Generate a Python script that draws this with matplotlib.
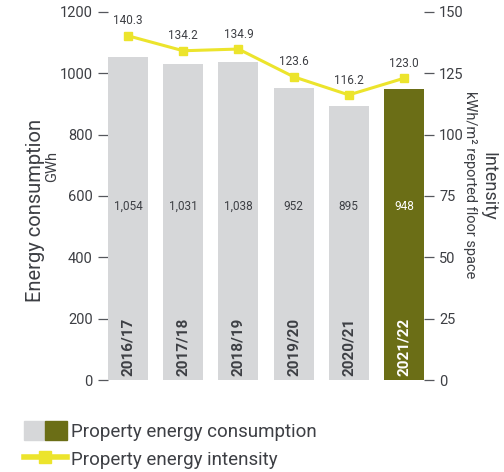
import matplotlib
matplotlib.use('AGG')
import matplotlib.pyplot as plt
from matplotlib.patches import Patch
from matplotlib.lines import Line2D
from matplotlib.legend_handler import HandlerTuple
import numpy as np

# data
years = ['2016/17', '2017/18', '2018/19', '2019/20', '2020/21', '2021/22']
consumption = [1054, 1031, 1038, 952, 895, 948]
intensity = [140.3, 134.2, 134.9, 123.6, 116.2, 123.0]
consumption_labels = ['1,054', '1,031', '1,038', '952', '895', '948']

grey = '#d6d7d9'
olive = '#6b6e16'
yellow = '#ece42c'
txt = '#3d3f44'
tickc = '#55575c'

plt.rcParams['font.family'] = ['Roboto', 'DejaVu Sans']

fig = plt.figure(figsize=(5.04, 4.72), dpi=100)
ax = fig.add_axes([108 / 504, 1 - 380 / 472, 316 / 504, 368 / 472])
ax2 = ax.twinx()

x = np.arange(len(years))
colors = [grey] * (len(years) - 1) + [olive]
ax.bar(x, consumption, width=0.725, color=colors, zorder=2)

for i in range(len(years)):
    c = 'white' if i == len(years) - 1 else txt
    ax.text(x[i], 567, consumption_labels[i], ha='center', va='center',
            fontsize=8.5, color=c)
    ax.text(x[i], 14, years[i], rotation=90, ha='center', va='bottom',
            fontsize=11, fontweight='semibold', color=c)

ax.set_xlim(-0.3625, 5.3625)
ax.set_ylim(0, 1200)
ax.set_yticks(range(0, 1201, 200))
ax.set_xticks([])

ax2.plot(x, intensity, color=yellow, lw=2.2, marker='s', ms=5.5, zorder=3)
for i in range(len(years)):
    ax2.annotate('%.1f' % intensity[i], (x[i], intensity[i]), xytext=(0, 6),
                 textcoords='offset points', ha='center', va='bottom',
                 fontsize=8.5, color=txt)
ax2.set_ylim(0, 150)
ax2.set_yticks(range(0, 151, 25))

for a in (ax, ax2):
    for s in a.spines.values():
        s.set_visible(False)
    a.tick_params(axis='y', length=7, width=0.9, color=tickc, labelcolor=txt,
                  labelsize=10.5, pad=4)
ax.set_zorder(ax2.get_zorder() - 1)
ax2.patch.set_visible(False)

# axis titles
fig.text(36 / 504, 1 - 210 / 472, 'Energy consumption', rotation=90,
         ha='center', va='center', fontsize=14.5, color=txt)
fig.text(52 / 504, 1 - 167 / 472, 'GWh', rotation=90,
         ha='center', va='center', fontsize=10.5, color=txt)
fig.text(488 / 504, 1 - 186 / 472, 'Intensity', rotation=270,
         ha='center', va='center', fontsize=13, color=txt)
fig.text(470 / 504, 1 - 185 / 472, 'kWh/m\u00b2 reported floor space', rotation=270,
         ha='center', va='center', fontsize=10.5, color=txt)

# legend
handles = [(Patch(color=grey), Patch(color=olive)),
           Line2D([], [], color=yellow, lw=4, marker='s', ms=8)]
fig.legend(handles, ['Property energy consumption', 'Property energy intensity'],
           handler_map={tuple: HandlerTuple(ndivide=None, pad=0)},
           loc='upper left', bbox_to_anchor=(20 / 504, 1 - 417 / 472),
           frameon=False, fontsize=13.5, labelcolor=txt, handlelength=2.3,
           handleheight=1.2, handletextpad=0.2, labelspacing=0.45,
           borderaxespad=0, borderpad=0.2)

fig.savefig('out.png', dpi=100)
